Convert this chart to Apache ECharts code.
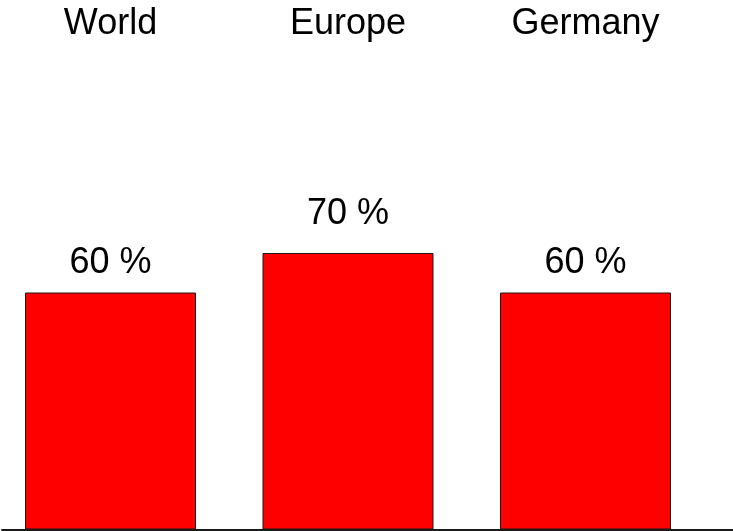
<!DOCTYPE html>
<html>
<head>
<meta charset="utf-8">
<script src="https://cdn.jsdelivr.net/npm/echarts@6/dist/echarts.min.js"></script>
<style>
html,body{margin:0;padding:0;background:#fff;}
#chart{width:733px;height:531px;}
</style>
</head>
<body>
<div id="chart"></div>
<script>
var categories = ['World', 'Europe', 'Germany'];
var values = [60, 70, 60];
var labelSuffix = ' %';

var chart = echarts.init(document.getElementById('chart'), null, {renderer: 'canvas'});
var font = '"Liberation Sans", Arial, Helvetica, sans-serif';
chart.setOption({
  animation: false,
  backgroundColor: '#ffffff',
  grid: [
    {left: -8.25, width: 712.5, top: 134.5, bottom: 1.5, containLabel: false, outerBoundsMode: 'none'},
    {left: 2, right: 0, top: 134.5, bottom: 1.5, containLabel: false, outerBoundsMode: 'none'}
  ],
  xAxis: [
    {
      type: 'category', gridIndex: 0, position: 'top', data: categories,
      axisLine: {show: false}, axisTick: {show: false}, splitLine: {show: false},
      axisLabel: {fontFamily: font, fontSize: 36, color: '#000', margin: 92, lineHeight: 36}
    },
    {
      type: 'category', gridIndex: 1, position: 'bottom', data: [''],
      axisLine: {show: true, lineStyle: {color: '#1a1a1a', width: 2}},
      axisTick: {show: false}, axisLabel: {show: false}, splitLine: {show: false}
    }
  ],
  yAxis: [
    {type: 'value', gridIndex: 0, min: 0, max: 100, show: false},
    {type: 'value', gridIndex: 1, min: 0, max: 100, show: false}
  ],
  series: [{
    type: 'bar',
    xAxisIndex: 0, yAxisIndex: 0,
    data: values.map(function (v) {
      return {value: v, label: {distance: v > 65 ? 21 : 11}};
    }),
    barWidth: 171,
    itemStyle: {color: '#ff0000', borderColor: '#1a1a1a', borderWidth: 1},
    label: {
      show: true, position: 'top',
      fontFamily: font, fontSize: 36, color: '#000', lineHeight: 36,
      formatter: function (p) { return p.value + labelSuffix; }
    }
  }]
});
</script>
</body>
</html>
